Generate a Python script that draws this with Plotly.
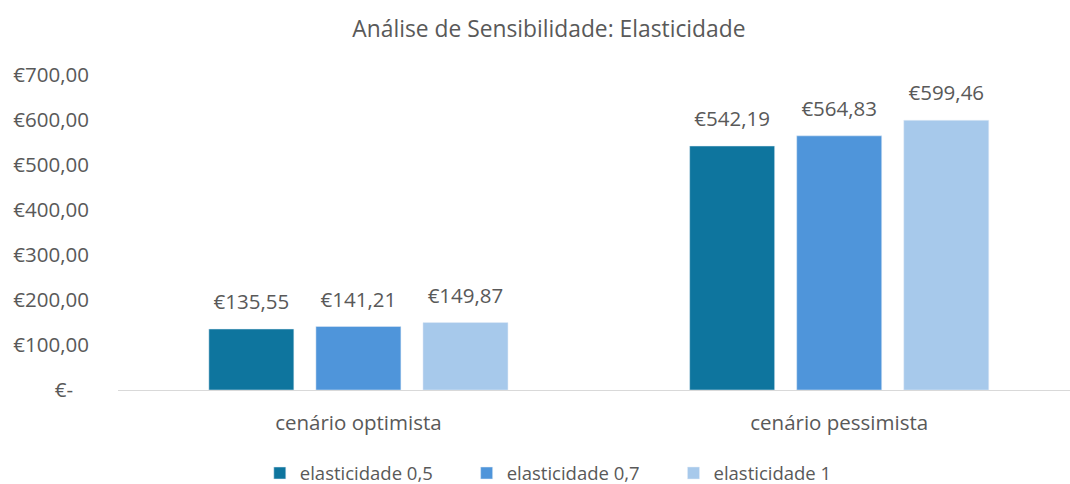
# Sensitivity analysis chart - elasticity scenarios
import plotly.graph_objects as go

# Data
categories = ["cenário optimista", "cenário pessimista"]
series_names = ["elasticidade 0,5", "elasticidade 0,7", "elasticidade 1"]
series_values = [
    [135.55, 542.19],
    [141.21, 564.83],
    [149.87, 599.46],
]
colors = ["#0E759E", "#4F95DA", "#A7C9EB"]
tick_vals = [0, 100, 200, 300, 400, 500, 600, 700]
tick_text = ["€-\u00a0\u00a0\u00a0", "€100,00", "€200,00", "€300,00", "€400,00",
             "€500,00", "€600,00", "€700,00"]


def euro(v):
    # Portuguese style: comma decimal separator
    return "€" + f"{v:.2f}".replace(".", ",")


fig = go.Figure()
for i, (name, vals, col) in enumerate(zip(series_names, series_values, colors)):
    # pad legend labels so the items sit further apart, like Excel does
    label = name if i == len(series_names) - 1 else name + "\u00a0" * 6
    fig.add_trace(go.Bar(
        x=categories, y=vals, name=label, marker_color=col,
        offsetgroup=str(i), alignmentgroup="g",
    ))
    # value labels: invisible markers push the text a bit above the bar
    fig.add_trace(go.Scatter(
        x=categories, y=vals, mode="markers+text", text=[euro(v) for v in vals],
        textposition="top center", marker=dict(size=22, color="rgba(0,0,0,0)"),
        textfont=dict(size=20.5, color="#595959"), cliponaxis=False,
        offsetgroup=str(i), alignmentgroup="g", showlegend=False, hoverinfo="skip",
    ))

fig.update_layout(
    width=1070, height=484,
    font=dict(family="Open Sans", color="#595959"),
    title=dict(text="Análise de Sensibilidade: Elasticidade", x=0.513, xanchor="center",
               y=0.94, yanchor="middle", font=dict(size=22.8, color="#595959")),
    barmode="group", bargap=0.332, bargroupgap=0.206,
    scattermode="group", scattergap=0.332,
    plot_bgcolor="white", paper_bgcolor="white",
    margin=dict(l=118, r=0, t=75, b=94, autoexpand=False),
    legend=dict(orientation="h", x=0.452, xanchor="center", y=-0.265, yanchor="middle",
                font=dict(size=18.5, color="#595959"), traceorder="normal"),
)
fig.update_xaxes(range=[-0.5, 1.48], showline=True, linecolor="#D9D9D9", linewidth=1,
                 ticks="", tickfont=dict(size=20.5, color="#595959"), ticklabelstandoff=14,
                 automargin=False)
fig.update_yaxes(range=[0, 700], tickvals=tick_vals, ticktext=tick_text, showgrid=False,
                 zeroline=False, tickfont=dict(size=20.5, color="#595959"),
                 ticklabelstandoff=28, automargin=False)

# the page body has a default 8px margin; drop it so the figure fills the window
fig.write_html("out.html", config={"displayModeBar": False},
               post_script="document.body.style.margin = '0';")
